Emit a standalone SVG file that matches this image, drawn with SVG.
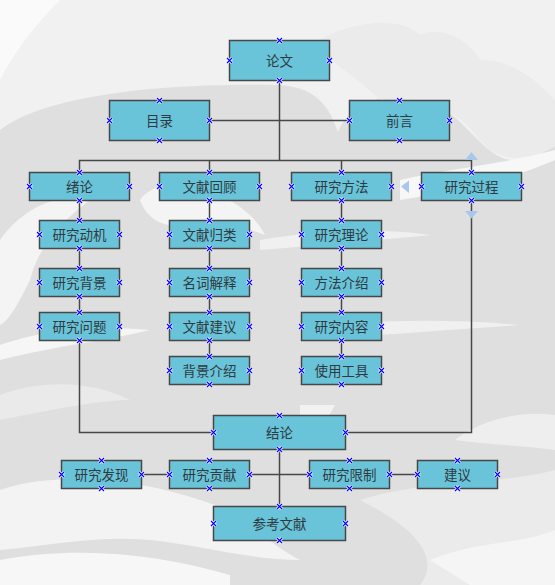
<svg xmlns="http://www.w3.org/2000/svg" xmlns:xlink="http://www.w3.org/1999/xlink" width="555" height="585" viewBox="0 0 555 585">
<defs>
<style>
.box{fill:#69c4da;stroke:#474747;stroke-width:1.5}
.t{font-family:"Noto Sans CJK SC","Noto Sans CJK JP",sans-serif;font-size:13.5px;fill:#2f3b40;text-anchor:middle}
.ln{fill:none;stroke:#474747;stroke-width:1.5}
.mk1{stroke:#ffffff;stroke-width:2.8;fill:none}
.mk2{stroke:#0000ff;stroke-width:1.2;fill:none}
.tri{fill:#a6c8ea}
</style>
<g id="m"><path class="mk1" d="M-2.5,-2.5L2.5,2.5M-2.5,2.5L2.5,-2.5"/><path class="mk2" d="M-2.5,-2.5L2.5,2.5M-2.5,2.5L2.5,-2.5"/></g>
</defs>
<g id="background">
<rect width="555" height="585" fill="#f1f1f1"/>
<path d="M0,0 L60,0 C30,30 10,60 0,80 Z" fill="#fafafa"/>
<path d="M0,130 C40,98 150,82 280,85 C320,88 330,110 338,132 C350,100 400,82 445,110 C470,125 490,165 520,160 C540,155 548,150 555,146 L555,585 L0,585 Z" fill="#dfdfdf"/>
<path d="M310,45 C350,20 400,15 420,35 C440,25 470,40 480,60 C520,60 545,90 555,100 L555,146 C530,160 500,165 480,140 C460,110 420,95 380,100 C360,80 330,60 310,45 Z" fill="#ebebeb"/>
<path d="M0,240 C20,210 60,190 90,200 C70,215 40,240 30,280 C20,300 10,320 0,325 Z" fill="#f4f4f4"/>
<path d="M0,345 C40,330 100,325 150,330 C110,340 60,345 0,360 Z" fill="#f6f6f6"/>
<path d="M140,200 C150,185 175,180 200,190 C230,195 255,215 265,235 C240,225 210,220 180,225 C160,228 145,215 140,200 Z" fill="#f4f4f4"/>
<path d="M400,180 C440,170 500,165 555,150 L555,160 C510,180 460,190 400,200 Z" fill="#f7f7f7"/>
<path d="M260,240 C320,230 380,228 430,235 C380,240 320,245 260,250 Z" fill="#f0f0f0"/>
<path d="M300,330 C360,320 440,318 520,325 C450,330 380,335 300,340 Z" fill="#f0f0f0"/>
<path d="M0,395 C40,380 90,380 130,400 C100,400 50,410 0,420 Z" fill="#eaeaea"/>
<path d="M300,405 L335,405 C325,425 310,440 300,450 Z" fill="#f2f2f2"/>
<path d="M455,440 C480,420 520,410 555,415 L555,450 C520,445 490,445 455,440 Z" fill="#eeeeee"/>
<path d="M0,490 C60,470 140,480 200,500 C250,515 260,540 300,560 C250,560 200,545 150,540 C100,535 50,545 0,550 Z" fill="#f3f3f3"/>
<path d="M0,560 C80,545 160,555 230,575 L230,585 L0,585 Z" fill="#f7f7f7"/>
<path d="M360,500 C420,480 500,485 555,470 L555,585 L420,585 C440,560 420,530 360,500 Z" fill="#ebebeb"/>
<path d="M430,560 C480,540 520,545 555,530 L555,585 L470,585 Z" fill="#f5f5f5"/>
</g>
<g id="connectors">
<path class="ln" d="M279.5,80.5V160.5"/>
<path class="ln" d="M209.5,120.5H349.5"/>
<path class="ln" d="M79.5,172.5V160.5H471.5V172.5M209.5,160.5V172.5M341.5,160.5V172.5"/>
<path class="ln" d="M79.5,200.5V220.5M79.5,248.5V268.5M79.5,296.5V312.5"/>
<path class="ln" d="M209.5,200.5V220.5M209.5,248.5V268.5M209.5,296.5V312.5M209.5,340.5V356.5"/>
<path class="ln" d="M341.5,200.5V220.5M341.5,248.5V268.5M341.5,296.5V312.5M341.5,340.5V356.5"/>
<path class="ln" d="M79.5,340.5V432.5H213.5"/>
<path class="ln" d="M471.5,200.5V432.5H345.5"/>
<path class="ln" d="M279.5,449.5V506.5"/>
<path class="ln" d="M141.5,474.5H169.5M249.5,474.5H309.5M389.5,474.5H417.5"/>
<path class="tri" d="M465,160L471.5,152L478,160Z"/>
<path class="tri" d="M409,180.5L401,186.5L409,193Z"/>
<path class="tri" d="M465,211L478,211L471.5,218.5Z"/>
</g>
<g id="n-lunwen"><rect class="box" x="229.5" y="40.5" width="100" height="40"/><text class="t" x="279.5" y="65.5">论文</text></g>
<g id="n-mulu"><rect class="box" x="109.5" y="100.5" width="100" height="40"/><text class="t" x="159.5" y="125.5">目录</text></g>
<g id="n-qianyan"><rect class="box" x="349.5" y="100.5" width="100" height="40"/><text class="t" x="399.5" y="125.5">前言</text></g>
<g id="n-xulun"><rect class="box" x="29.5" y="172.5" width="100" height="28"/><text class="t" x="79.5" y="191.5">绪论</text></g>
<g id="n-wxhg"><rect class="box" x="159.5" y="172.5" width="100" height="28"/><text class="t" x="209.5" y="191.5">文献回顾</text></g>
<g id="n-yjff"><rect class="box" x="291.5" y="172.5" width="100" height="28"/><text class="t" x="341.5" y="191.5">研究方法</text></g>
<g id="n-yjgc"><rect class="box" x="421.5" y="172.5" width="100" height="28"/><text class="t" x="471.5" y="191.5">研究过程</text></g>
<g id="n-yjdj"><rect class="box" x="39.5" y="220.5" width="80" height="28"/><text class="t" x="79.5" y="239.5">研究动机</text></g>
<g id="n-yjbj"><rect class="box" x="39.5" y="268.5" width="80" height="28"/><text class="t" x="79.5" y="287.5">研究背景</text></g>
<g id="n-yjwt"><rect class="box" x="39.5" y="312.5" width="80" height="28"/><text class="t" x="79.5" y="331.5">研究问题</text></g>
<g id="n-wxgl"><rect class="box" x="169.5" y="220.5" width="80" height="28"/><text class="t" x="209.5" y="239.5">文献归类</text></g>
<g id="n-mcjs"><rect class="box" x="169.5" y="268.5" width="80" height="28"/><text class="t" x="209.5" y="287.5">名词解释</text></g>
<g id="n-wxjy"><rect class="box" x="169.5" y="312.5" width="80" height="28"/><text class="t" x="209.5" y="331.5">文献建议</text></g>
<g id="n-bjjs"><rect class="box" x="169.5" y="356.5" width="80" height="28"/><text class="t" x="209.5" y="375.5">背景介绍</text></g>
<g id="n-yjll"><rect class="box" x="301.5" y="220.5" width="80" height="28"/><text class="t" x="341.5" y="239.5">研究理论</text></g>
<g id="n-ffjs"><rect class="box" x="301.5" y="268.5" width="80" height="28"/><text class="t" x="341.5" y="287.5">方法介绍</text></g>
<g id="n-yjnr"><rect class="box" x="301.5" y="312.5" width="80" height="28"/><text class="t" x="341.5" y="331.5">研究内容</text></g>
<g id="n-sygj"><rect class="box" x="301.5" y="356.5" width="80" height="28"/><text class="t" x="341.5" y="375.5">使用工具</text></g>
<g id="n-jielun"><rect class="box" x="213.5" y="415.5" width="132" height="34"/><text class="t" x="279.5" y="437.5">结论</text></g>
<g id="n-yjfx"><rect class="box" x="61.5" y="460.5" width="80" height="28"/><text class="t" x="101.5" y="479.5">研究发现</text></g>
<g id="n-yjgx"><rect class="box" x="169.5" y="460.5" width="80" height="28"/><text class="t" x="209.5" y="479.5">研究贡献</text></g>
<g id="n-yjxz"><rect class="box" x="309.5" y="460.5" width="80" height="28"/><text class="t" x="349.5" y="479.5">研究限制</text></g>
<g id="n-jianyi"><rect class="box" x="417.5" y="460.5" width="80" height="28"/><text class="t" x="457.5" y="479.5">建议</text></g>
<g id="n-ckwx"><rect class="box" x="213.5" y="506.5" width="132" height="34"/><text class="t" x="279.5" y="528.5">参考文献</text></g>
<g id="markers">
<use href="#m" x="279.5" y="40.5"/><use href="#m" x="279.5" y="80.5"/><use href="#m" x="229.5" y="60.5"/><use href="#m" x="329.5" y="60.5"/>
<use href="#m" x="159.5" y="100.5"/><use href="#m" x="159.5" y="140.5"/><use href="#m" x="109.5" y="120.5"/><use href="#m" x="209.5" y="120.5"/>
<use href="#m" x="399.5" y="100.5"/><use href="#m" x="399.5" y="140.5"/><use href="#m" x="349.5" y="120.5"/><use href="#m" x="449.5" y="120.5"/>
<use href="#m" x="79.5" y="172.5"/><use href="#m" x="79.5" y="200.5"/><use href="#m" x="29.5" y="186.5"/><use href="#m" x="129.5" y="186.5"/>
<use href="#m" x="209.5" y="172.5"/><use href="#m" x="209.5" y="200.5"/><use href="#m" x="159.5" y="186.5"/><use href="#m" x="259.5" y="186.5"/>
<use href="#m" x="341.5" y="172.5"/><use href="#m" x="341.5" y="200.5"/><use href="#m" x="291.5" y="186.5"/><use href="#m" x="391.5" y="186.5"/>
<use href="#m" x="471.5" y="172.5"/><use href="#m" x="471.5" y="200.5"/><use href="#m" x="421.5" y="186.5"/><use href="#m" x="521.5" y="186.5"/>
<use href="#m" x="79.5" y="220.5"/><use href="#m" x="79.5" y="248.5"/><use href="#m" x="39.5" y="234.5"/><use href="#m" x="119.5" y="234.5"/>
<use href="#m" x="79.5" y="268.5"/><use href="#m" x="79.5" y="296.5"/><use href="#m" x="39.5" y="282.5"/><use href="#m" x="119.5" y="282.5"/>
<use href="#m" x="79.5" y="312.5"/><use href="#m" x="79.5" y="340.5"/><use href="#m" x="39.5" y="326.5"/><use href="#m" x="119.5" y="326.5"/>
<use href="#m" x="209.5" y="220.5"/><use href="#m" x="209.5" y="248.5"/><use href="#m" x="169.5" y="234.5"/><use href="#m" x="249.5" y="234.5"/>
<use href="#m" x="209.5" y="268.5"/><use href="#m" x="209.5" y="296.5"/><use href="#m" x="169.5" y="282.5"/><use href="#m" x="249.5" y="282.5"/>
<use href="#m" x="209.5" y="312.5"/><use href="#m" x="209.5" y="340.5"/><use href="#m" x="169.5" y="326.5"/><use href="#m" x="249.5" y="326.5"/>
<use href="#m" x="209.5" y="356.5"/><use href="#m" x="209.5" y="384.5"/><use href="#m" x="169.5" y="370.5"/><use href="#m" x="249.5" y="370.5"/>
<use href="#m" x="341.5" y="220.5"/><use href="#m" x="341.5" y="248.5"/><use href="#m" x="301.5" y="234.5"/><use href="#m" x="381.5" y="234.5"/>
<use href="#m" x="341.5" y="268.5"/><use href="#m" x="341.5" y="296.5"/><use href="#m" x="301.5" y="282.5"/><use href="#m" x="381.5" y="282.5"/>
<use href="#m" x="341.5" y="312.5"/><use href="#m" x="341.5" y="340.5"/><use href="#m" x="301.5" y="326.5"/><use href="#m" x="381.5" y="326.5"/>
<use href="#m" x="341.5" y="356.5"/><use href="#m" x="341.5" y="384.5"/><use href="#m" x="301.5" y="370.5"/><use href="#m" x="381.5" y="370.5"/>
<use href="#m" x="279.5" y="415.5"/><use href="#m" x="279.5" y="449.5"/><use href="#m" x="213.5" y="432.5"/><use href="#m" x="345.5" y="432.5"/>
<use href="#m" x="101.5" y="460.5"/><use href="#m" x="101.5" y="488.5"/><use href="#m" x="61.5" y="474.5"/><use href="#m" x="141.5" y="474.5"/>
<use href="#m" x="209.5" y="460.5"/><use href="#m" x="209.5" y="488.5"/><use href="#m" x="169.5" y="474.5"/><use href="#m" x="249.5" y="474.5"/>
<use href="#m" x="349.5" y="460.5"/><use href="#m" x="349.5" y="488.5"/><use href="#m" x="309.5" y="474.5"/><use href="#m" x="389.5" y="474.5"/>
<use href="#m" x="457.5" y="460.5"/><use href="#m" x="457.5" y="488.5"/><use href="#m" x="417.5" y="474.5"/><use href="#m" x="497.5" y="474.5"/>
<use href="#m" x="279.5" y="506.5"/><use href="#m" x="279.5" y="540.5"/><use href="#m" x="213.5" y="523.5"/><use href="#m" x="345.5" y="523.5"/>
</g>
</svg>
